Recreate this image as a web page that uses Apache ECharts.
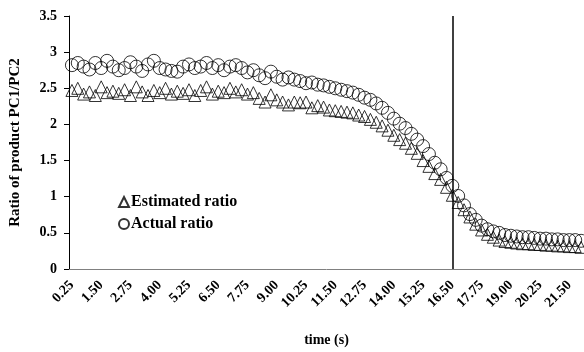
<!DOCTYPE html>
<html>
<head>
<meta charset="utf-8">
<script src="https://cdn.jsdelivr.net/npm/echarts@6/dist/echarts.min.js"></script>
<style>
  * { margin: 0; padding: 0; }
  body { background: #fff; }
</style>
</head>
<body>
<!-- chart container -->
<div id="main" style="width: 584px; height: 352px;"></div>
<script>
// time stamps (s), one every 0.25 s
const times = [
  '0.25','0.50','0.75','1.00','1.25','1.50','1.75','2.00','2.25','2.50',
  '2.75','3.00','3.25','3.50','3.75','4.00','4.25','4.50','4.75','5.00',
  '5.25','5.50','5.75','6.00','6.25','6.50','6.75','7.00','7.25','7.50',
  '7.75','8.00','8.25','8.50','8.75','9.00','9.25','9.50','9.75','10.00',
  '10.25','10.50','10.75','11.00','11.25','11.50','11.75','12.00','12.25','12.50',
  '12.75','13.00','13.25','13.50','13.75','14.00','14.25','14.50','14.75','15.00',
  '15.25','15.50','15.75','16.00','16.25','16.50','16.75','17.00','17.25','17.50',
  '17.75','18.00','18.25','18.50','18.75','19.00','19.25','19.50','19.75','20.00',
  '20.25','20.50','20.75','21.00','21.25','21.50','21.75','22.00'
];

const estimated = [
  2.47,2.50,2.42,2.45,2.40,2.52,2.44,2.46,2.43,2.48,
  2.40,2.52,2.45,2.40,2.47,2.44,2.50,2.42,2.46,2.43,
  2.48,2.40,2.47,2.52,2.42,2.46,2.44,2.50,2.45,2.48,
  2.42,2.44,2.36,2.31,2.41,2.34,2.31,2.27,2.31,2.30,
  2.31,2.23,2.26,2.24,2.20,2.19,2.18,2.17,2.16,2.13,
  2.11,2.07,2.03,1.98,1.92,1.85,1.79,1.74,1.67,1.60,
  1.50,1.42,1.32,1.24,1.13,1.02,0.92,0.82,0.72,0.62,
  0.54,0.48,0.44,0.40,0.38,0.37,0.36,0.35,0.35,0.34,
  0.34,0.33,0.33,0.32,0.32,0.31,0.31,0.30
];

const actual = [
  2.82,2.85,2.80,2.76,2.85,2.78,2.88,2.80,2.75,2.78,
  2.86,2.80,2.74,2.83,2.88,2.78,2.76,2.74,2.73,2.80,
  2.83,2.78,2.80,2.85,2.78,2.82,2.75,2.80,2.82,2.78,
  2.72,2.75,2.68,2.64,2.73,2.66,2.62,2.65,2.62,2.60,
  2.57,2.58,2.55,2.54,2.52,2.50,2.48,2.46,2.44,2.41,
  2.37,2.34,2.29,2.23,2.16,2.08,2.01,1.95,1.87,1.79,
  1.70,1.59,1.47,1.38,1.26,1.15,1.01,0.88,0.76,0.68,
  0.60,0.55,0.52,0.50,0.47,0.46,0.45,0.44,0.44,0.43,
  0.42,0.42,0.41,0.41,0.40,0.40,0.40,0.39
];

// vertical marker time
const markTime = '16.50';

const font = 'Liberation Serif';
const hollow = { color: 'rgba(0,0,0,0)', borderColor: '#000', borderWidth: 1 };

const chart = echarts.init(document.getElementById('main'));
chart.setOption({
  animation: false,
  textStyle: { fontFamily: font },
  grid: { left: 66, right: 0, top: 16, bottom: 82 },
  legend: {
    orient: 'vertical',
    left: 113,
    top: 189,
    itemWidth: 10,
    itemHeight: 10,
    itemGap: 6,
    textStyle: { fontFamily: font, fontWeight: 'bold', fontSize: 16, color: '#000', padding: [0, 0, 0, -3] },
    data: ['Estimated ratio', 'Actual ratio']
  },
  xAxis: {
    type: 'category',
    data: times,
    boundaryGap: true,
    name: 'time (s)',
    nameLocation: 'middle',
    nameGap: 64,
    nameTextStyle: { fontFamily: font, fontWeight: 'bold', fontSize: 14, color: '#000' },
    axisLine: { lineStyle: { color: '#808080', width: 1 } },
    axisTick: { show: false },
    axisLabel: {
      interval: 4,
      rotate: 45,
      fontFamily: font,
      fontWeight: 'bold',
      fontSize: 14,
      color: '#000',
      margin: 14
    },
    splitLine: { show: false }
  },
  yAxis: {
    type: 'value',
    min: 0,
    max: 3.5,
    interval: 0.5,
    name: 'Ratio of product PC1/PC2',
    nameLocation: 'middle',
    nameGap: 46,
    nameTextStyle: { fontFamily: font, fontWeight: 'bold', fontSize: 15, color: '#000' },
    axisLine: { show: true, lineStyle: { color: '#000', width: 1 } },
    axisTick: { show: true, length: 5, lineStyle: { color: '#000' } },
    axisLabel: { fontFamily: font, fontWeight: 'bold', fontSize: 14, color: '#000', margin: 12 },
    splitLine: { show: false }
  },
  series: [
    {
      name: 'Estimated ratio',
      type: 'scatter',
      symbol: 'triangle',
      symbolSize: 12,
      itemStyle: hollow,
      data: estimated,
      markLine: {
        silent: true,
        symbol: 'none',
        label: { show: false },
        lineStyle: { color: '#000', width: 1.5, type: 'solid' },
        data: [{ xAxis: markTime }]
      }
    },
    {
      name: 'Actual ratio',
      type: 'scatter',
      symbol: 'circle',
      symbolSize: 13,
      itemStyle: hollow,
      data: actual
    }
  ]
});
</script>
</body>
</html>
